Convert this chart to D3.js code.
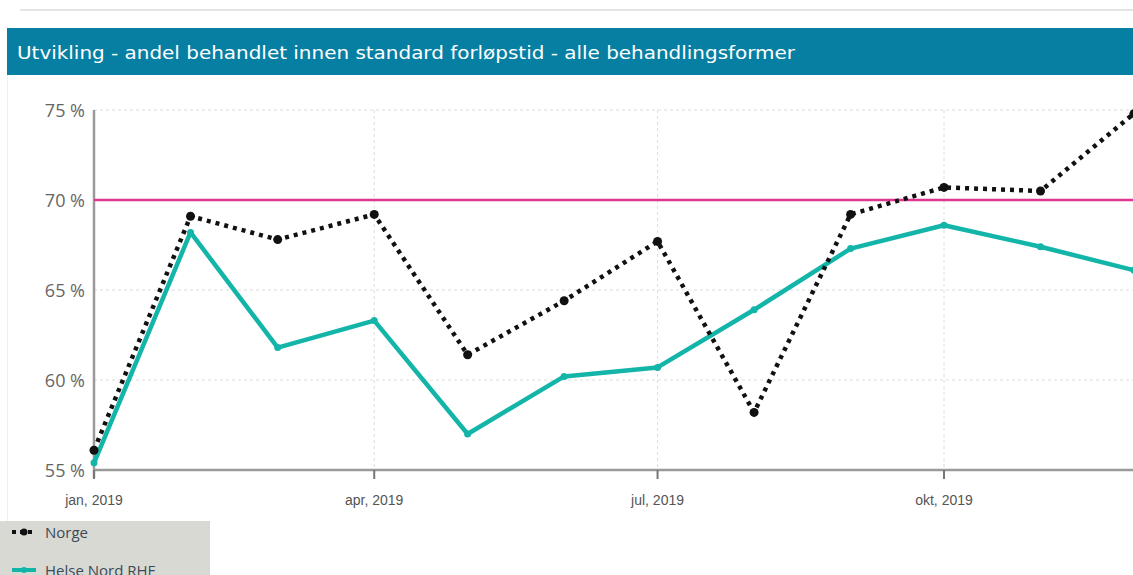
<!DOCTYPE html>
<html><head><meta charset="utf-8">
<script src="https://cdn.jsdelivr.net/npm/d3@7"></script>
<style>body{margin:0;background:#fff;overflow:hidden}svg{display:block}</style>
</head><body>
<svg id="c" width="1133" height="575"></svg>
<script>
const months = ["2019-01-01","2019-02-01","2019-03-01","2019-04-01","2019-05-01","2019-06-01","2019-07-01","2019-08-01","2019-09-01","2019-10-01","2019-11-01","2019-12-01"];
const norge = [56.1,69.1,67.8,69.2,61.4,64.4,67.7,58.2,69.2,70.7,70.5,74.8];
const helseNord = [55.4,68.2,61.8,63.3,57.0,60.2,60.7,63.9,67.3,68.6,67.4,66.1];
const target = 70;
const yTicks = [55,60,65,70,75];
const xTickDates = ["2019-01-01","2019-04-01","2019-07-01","2019-10-01"];
const xTickLabels = ["jan, 2019","apr, 2019","jul, 2019","okt, 2019"];
const title = "Utvikling - andel behandlet innen standard forløpstid - alle behandlingsformer";
const legendNames = ["Norge","Helse Nord RHF"];

const parse = d3.utcParse("%Y-%m-%d");
const svg = d3.select("#c");
const x = d3.scaleUtc().domain([parse("2019-01-01"), parse("2019-10-01")]).range([94, 944]);
const y = d3.scaleLinear().domain([55,75]).range([470,110]);
const xr = 1133;

// top shadow line
svg.append("rect").attr("x",20).attr("y",9).attr("width",1113).attr("height",2).attr("fill","#e4e4e4");
// left border
svg.append("line").attr("x1",7.5).attr("x2",7.5).attr("y1",75).attr("y2",521).attr("stroke","#eeeeee");
// title bar
svg.append("rect").attr("x",7).attr("y",28).attr("width",1126).attr("height",47).attr("fill","#067fa3");
svg.append("text").attr("x",17).attr("y",59).attr("fill","#ffffff")
  .attr("font-family","'DejaVu Sans Condensed','DejaVu Sans',sans-serif").attr("font-size",18)
  .attr("textLength",778).attr("lengthAdjust","spacingAndGlyphs").text(title);

// grid
const g = svg.append("g");
g.selectAll(".hg").data(yTicks).join("line")
  .attr("x1",94).attr("x2",xr).attr("y1",d=>y(d)).attr("y2",d=>y(d))
  .attr("stroke","#dcdcdc").attr("stroke-dasharray","3,3");
g.selectAll(".vg").data(xTickDates.slice(1)).join("line")
  .attr("x1",d=>x(parse(d))).attr("x2",d=>x(parse(d))).attr("y1",110).attr("y2",470)
  .attr("stroke","#dcdcdc").attr("stroke-dasharray","3,3");

// y axis
svg.append("line").attr("x1",94).attr("x2",94).attr("y1",110).attr("y2",478).attr("stroke","#9a9a9a").attr("stroke-width",2.5);
svg.selectAll(".yl").data(yTicks).join("text")
  .attr("x",85).attr("y",d=>y(d)+7).attr("text-anchor","end")
  .attr("font-family","'Open Sans',sans-serif").attr("font-size",18).attr("fill","#666")
  .text(d=>d+" %");

// x axis
svg.append("line").attr("x1",94).attr("x2",xr).attr("y1",470).attr("y2",470).attr("stroke","#9a9a9a").attr("stroke-width",2.5);
svg.selectAll(".xt").data(xTickDates).join("line")
  .attr("x1",d=>x(parse(d))).attr("x2",d=>x(parse(d))).attr("y1",470).attr("y2",479)
  .attr("stroke","#777").attr("stroke-width",2);
svg.selectAll(".xl").data(xTickDates).join("text")
  .attr("x",d=>x(parse(d))).attr("y",505).attr("text-anchor","middle")
  .attr("font-family","'Liberation Sans Narrow','Liberation Sans',sans-serif").attr("font-size",14).attr("fill","#555")
  .text((d,i)=>xTickLabels[i]);

// target line
svg.append("line").attr("x1",94).attr("x2",xr).attr("y1",y(target)).attr("y2",y(target))
  .attr("stroke","#df3690").attr("stroke-width",2.5);

const line = d3.line().x((d,i)=>x(parse(months[i]))).y(d=>y(d));
// Helse Nord
svg.append("path").datum(helseNord).attr("d",line).attr("fill","none")
  .attr("stroke","#14b5a9").attr("stroke-width",4.5).attr("stroke-linejoin","round");
svg.selectAll(".hn").data(helseNord).join("circle")
  .attr("cx",(d,i)=>x(parse(months[i]))).attr("cy",d=>y(d)).attr("r",3.5).attr("fill","#14b5a9");
// Norge
svg.append("path").datum(norge).attr("d",line).attr("fill","none")
  .attr("stroke","#111").attr("stroke-width",4.5).attr("stroke-dasharray","4,5");
svg.selectAll(".no").data(norge).join("circle")
  .attr("cx",(d,i)=>x(parse(months[i]))).attr("cy",d=>y(d)).attr("r",4.5).attr("fill","#111");

// legend
svg.append("rect").attr("x",0).attr("y",521).attr("width",210).attr("height",54).attr("fill","#d9d9d3");
const lg = svg.append("g");
lg.append("line").attr("x1",12).attr("x2",36).attr("y1",532).attr("y2",532).attr("stroke","#111").attr("stroke-width",4).attr("stroke-dasharray","4,4");
lg.append("circle").attr("cx",24).attr("cy",532).attr("r",3.5).attr("fill","#111");
lg.append("line").attr("x1",12).attr("x2",36).attr("y1",570).attr("y2",570).attr("stroke","#14b5a9").attr("stroke-width",4);
lg.append("circle").attr("cx",24).attr("cy",570).attr("r",3).attr("fill","#14b5a9");
lg.selectAll("text").data(legendNames).join("text")
  .attr("x",45).attr("y",(d,i)=>538+i*38)
  .attr("font-family","'Open Sans',sans-serif").attr("font-size",15).attr("fill","#3a4a5a")
  .text(d=>d);
</script>
</body></html>
